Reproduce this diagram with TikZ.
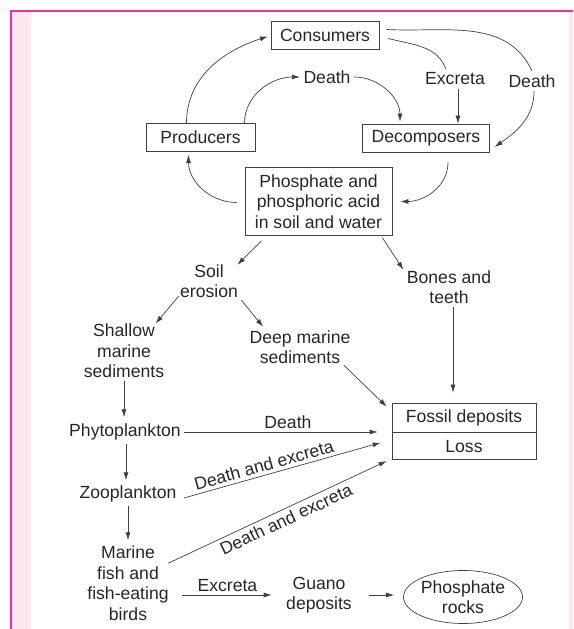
\documentclass[tikz,border=0pt]{standalone}
\usepackage{fontspec}
\setmainfont{Liberation Sans}
\usetikzlibrary{arrows.meta,positioning,shapes.geometric}
\definecolor{pageline}{RGB}{255,40,165}
\definecolor{pagefill}{RGB}{253,232,242}
\begin{document}
\begin{tikzpicture}[x=1pt,y=1pt,
  every node/.style={font=\fontsize{17.6}{20.5}\selectfont, text=black!85, align=center},
  box/.style={draw=black!75, line width=0.7pt, inner xsep=9pt, minimum height=28pt},
  link/.style={draw=black!75, line width=0.7pt},
  arr/.style={link, -{Latex[length=8pt,width=5pt]}}]
  \useasboundingbox (0,0) rectangle (573,629);
  % Page frame
  \fill[pagefill] (12,0) rectangle (31,617);
  \fill[pagefill] (569,0) rectangle (573,617);
  \fill[pageline] (10,0) rectangle (12,619);
  \fill[pageline] (10,617) rectangle (573,619);
  % Upper cycle
  \node[box] (cons) at (325,593.5) {Consumers};
  \node[box, minimum width=109pt] (prod) at (200.5,491.5) {Producers};
  \node[box] (decomp) at (426,491) {Decomposers};
  \node[box, inner xsep=10pt, inner ysep=7pt] (phos) at (318.5,427.5)
    {Phosphate and\\phosphoric acid\\in soil and water};
  \node (death1) at (327,552) {Death};
  \node (excr1) at (455,550) {Excreta};
  \node (death2) at (532,548) {Death};
  \draw[arr, shorten >=3pt] ([xshift=-14pt]prod.north) to[out=90,in=198] (cons.west);
  \draw[arr] ([xshift=44pt]prod.north) to[out=90,in=180] (death1.west);
  \draw[arr, shorten >=2pt] (death1.east) to[out=0,in=90] ([xshift=-26pt]decomp.north);
  \draw[link] ([xshift=9pt,yshift=-3pt]cons.east) to[out=-15,in=110] ([xshift=-9pt]excr1.north);
  \draw[arr] ([xshift=3pt]excr1.south) -- ([xshift=3pt]excr1.south |- decomp.north);
  \draw[link] ([xshift=7pt,yshift=6pt]cons.east) to[out=-3,in=115] (death2.north);
  \draw[arr] ([xshift=2pt]death2.south) to[out=-90,in=35] ([xshift=5pt,yshift=-9pt]decomp.east);
  \draw[arr] ([xshift=-8pt,yshift=-1pt]phos.west) to[out=180,in=-90] ([xshift=-12pt,yshift=-3pt]prod.south);
  \draw[arr] ([xshift=22pt,yshift=-10pt]decomp.south) to[out=-90,in=0] ([xshift=8pt]phos.east);
  % Sediment branch
  \node (soil) at (209,348) {Soil\\erosion};
  \node (bones) at (449,342) {Bones and\\teeth};
  \node (shallow) at (124,278) {Shallow\\marine\\sediments};
  \node (deep) at (300,282) {Deep marine\\sediments};
  \node[box, minimum width=144pt, minimum height=29pt] (fossil) at (464,211.5) {Fossil deposits};
  \node[box, minimum width=144pt, minimum height=27pt, below=0pt of fossil] (loss) {Loss};
  \draw[arr] ([xshift=-57pt,yshift=-5pt]phos.south) -- ([xshift=-4pt,yshift=-4pt]soil.north east);
  \draw[arr] ([xshift=-10pt,yshift=-2pt]phos.south east) -- ([yshift=-3pt]bones.north west);
  \draw[arr] ([xshift=2pt,yshift=5pt]soil.south west) -- ([xshift=-12pt,yshift=-3pt]shallow.north east);
  \draw[arr] ([yshift=1pt]soil.south east) -- ([xshift=17pt]deep.north west);
  \draw[arr, shorten >=10pt] ([xshift=4pt]bones.south) -- ([xshift=4pt]bones.south |- fossil.north);
  \draw[arr] ([xshift=-10pt,yshift=2pt]deep.south east) -- ([xshift=-5pt,yshift=-4pt]fossil.north west);
  % Marine food chain
  \node (phyto) at (125,197) {Phytoplankton};
  \node (zoo) at (128,135) {Zooplankton};
  \node (fish) at (128,46) {Marine\\fish and\\fish-eating\\birds};
  \node (guano) at (319,34) {Guano\\deposits};
  \node[draw=black!75, line width=0.7pt, ellipse, minimum width=103pt, minimum height=53pt,
    inner sep=0pt] (rocks) at (463,32) {Phosphate\\rocks};
  \draw[arr, shorten >=3pt] (shallow.south) -- (shallow.south |- phyto.north);
  \draw[arr, shorten >=2pt] ([xshift=1pt]phyto.south) -- ([xshift=1pt]phyto.south |- zoo.north);
  \draw[arr, shorten >=2pt] (zoo.south) -- (zoo.south |- fish.north);
  \draw[arr, shorten >=14pt] (phyto.east) -- (phyto.east -| fossil.west)
    node[midway, above] {Death};
  \draw[arr] ([xshift=4pt,yshift=-4pt]zoo.east) -- ([xshift=-11pt,yshift=3.5pt]loss.west)
    node[pos=0.42, above, sloped] {Death and excreta};
  \draw[arr] ([xshift=-4pt,yshift=-21pt]fish.north east) -- ([xshift=-5pt,yshift=-1pt]loss.south west)
    node[pos=0.52, below, sloped] {Death and excreta};
  \draw[arr, shorten <=10pt, shorten >=11pt] (fish.east |- guano.west) -- (guano.west)
    node[midway, above] {Excreta};
  \draw[arr, shorten <=14pt, shorten >=9pt] (guano.east) -- (guano.east -| rocks.west);
\end{tikzpicture}
\end{document}
